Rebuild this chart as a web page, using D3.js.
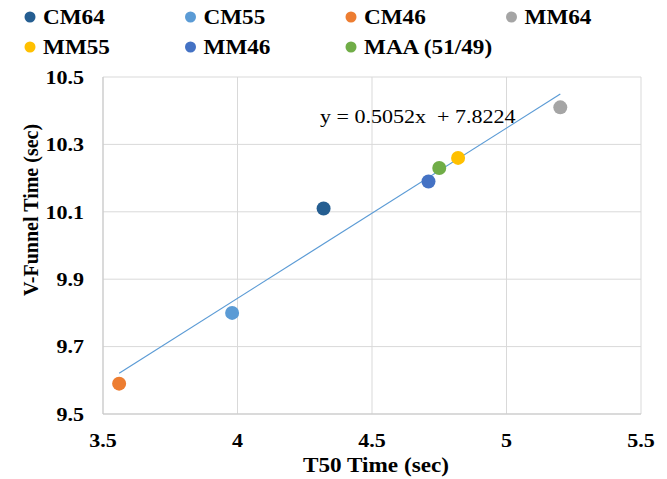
<html>
<head>
<meta charset="UTF-8">
<style>
  body { margin: 0; background: #fff; }
  text { font-family: "Liberation Serif", "Times New Roman", serif; }
</style>
<script src="https://cdn.jsdelivr.net/npm/d3@7"></script>
</head>
<body>
<div class="chart"></div>
<script>

// data
var series = ["CM64", "CM55", "CM46", "MM64", "MM55", "MM46", "MAA (51/49)"];
var t50 = [4.32, 3.98, 3.56, 5.2, 4.82, 4.71, 4.75];
var vfunnel = [10.11, 9.80, 9.59, 10.41, 10.26, 10.19, 10.23];
var colors = ["#255e91", "#5b9bd5", "#ed7d31", "#a5a5a5", "#ffc000", "#4472c4", "#70ad47"];
var xTicks = [3.5, 4, 4.5, 5, 5.5];
var yTicks = [9.5, 9.7, 9.9, 10.1, 10.3, 10.5];
var slope = 0.5052, intercept = 7.8224;

var W = 667, H = 479;
var margin = {top: 77, right: 26, bottom: 65, left: 103},
    width = W - margin.left - margin.right,
    height = H - margin.top - margin.bottom;

// the source image text looks a bit wide, so stretch horizontal text
var sx = 1.16;
function place(px, py) {
  return "translate(" + px + "," + py + ") scale(" + sx + ",1)";
}

var svg = d3.select(".chart").append("svg")
    .attr("width", W)
    .attr("height", H);

var g = svg.append("g")
    .attr("transform", "translate(" + margin.left + "," + margin.top + ")");

var x = d3.scaleLinear().domain([3.5, 5.5]).range([0, width]);
var y = d3.scaleLinear().domain([9.5, 10.5]).range([height, 0]);

// grid
g.append("g").selectAll("line")
    .data(yTicks)
  .enter().append("line")
    .attr("x1", 0).attr("x2", width)
    .attr("y1", function(d) { return y(d); })
    .attr("y2", function(d) { return y(d); })
    .style("stroke", "#d9d9d9");

g.append("g").selectAll("line")
    .data(xTicks)
  .enter().append("line")
    .attr("y1", 0).attr("y2", height)
    .attr("x1", function(d) { return x(d); })
    .attr("x2", function(d) { return x(d); })
    .style("stroke", "#d9d9d9");

// axis lines
g.append("line").attr("x1", 0).attr("x2", width).attr("y1", height).attr("y2", height)
    .style("stroke", "#c8c8c8");
g.append("line").attr("x1", 0).attr("x2", 0).attr("y1", 0).attr("y2", height)
    .style("stroke", "#c8c8c8");

// tick labels
g.append("g").selectAll("text")
    .data(yTicks)
  .enter().append("text")
    .attr("transform", function(d) { return place(-19, y(d)); })
    .attr("dy", "0.36em")
    .style("text-anchor", "end")
    .style("font-weight", "bold")
    .style("font-size", "19px")
    .text(function(d) { return d3.format(".1f")(d); });

g.append("g").selectAll("text")
    .data(xTicks)
  .enter().append("text")
    .attr("transform", function(d) { return place(x(d), height + 33); })
    .style("text-anchor", "middle")
    .style("font-weight", "bold")
    .style("font-size", "19px")
    .text(function(d) { return d; });

// axis titles
svg.append("text")
    .attr("transform", place(margin.left + width / 2 + 4, 472))
    .style("text-anchor", "middle")
    .style("font-weight", "bold")
    .style("font-size", "20px")
    .text("T50 Time (sec)");

svg.append("text")
    .attr("transform", "translate(38," + 210 + ") rotate(-90)")
    .style("text-anchor", "middle")
    .style("font-weight", "bold")
    .style("font-size", "20px")
    .text("V-Funnel Time (sec)");

// trend line over the data range
var xr = d3.extent(t50);
g.append("line")
    .attr("x1", x(xr[0])).attr("y1", y(slope * xr[0] + intercept))
    .attr("x2", x(xr[1])).attr("y2", y(slope * xr[1] + intercept))
    .style("stroke", "#5b9bd5")
    .style("stroke-width", 1.2);

g.append("text")
    .attr("transform", place(217, 46))
    .style("font-size", "19px")
    .style("white-space", "pre")
    .text("y = 0.5052x  + 7.8224");

// points
g.selectAll("circle.pt")
    .data(series)
  .enter().append("circle")
    .attr("class", "pt")
    .attr("cx", function(d, i) { return x(t50[i]); })
    .attr("cy", function(d, i) { return y(vfunnel[i]); })
    .attr("r", 7)
    .style("fill", function(d, i) { return colors[i]; });

// legend
var legend = svg.append("g").selectAll("g")
    .data(series)
  .enter().append("g")
    .attr("transform", function(d, i) {
      return "translate(" + (30 + (i % 4) * 160.5) + "," + (17 + Math.floor(i / 4) * 30) + ")";
    });

legend.append("circle")
    .attr("r", 5.5)
    .style("fill", function(d, i) { return colors[i]; });

legend.append("text")
    .attr("transform", place(13, 7))
    .style("font-weight", "bold")
    .style("font-size", "20px")
    .text(function(d) { return d; });

</script>
</body>
</html>
